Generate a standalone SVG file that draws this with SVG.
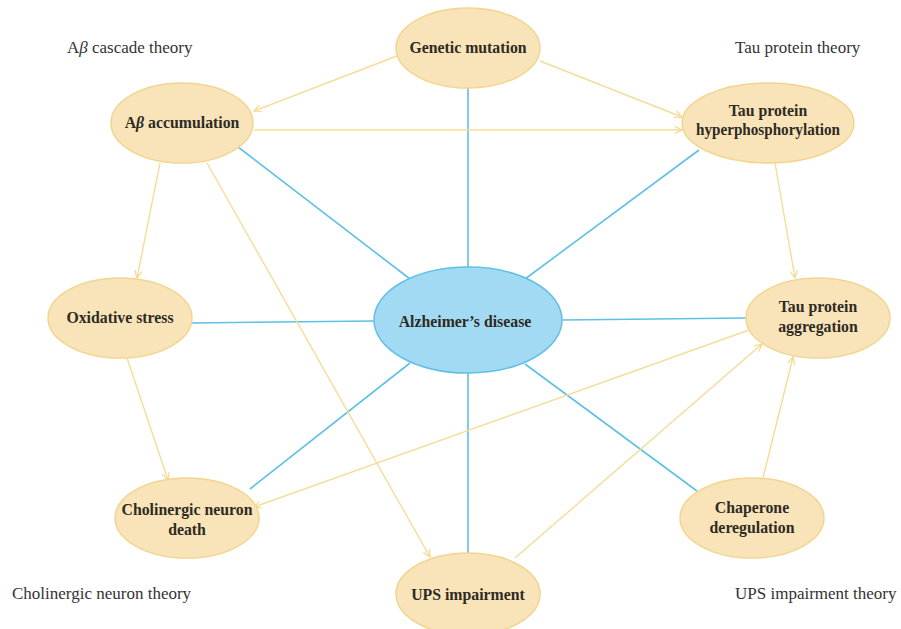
<svg xmlns="http://www.w3.org/2000/svg" width="901" height="629" viewBox="0 0 901 629">
<style>
.n{fill:#f8e4b8;stroke:#f2d590;stroke-width:1.5}
.ad{fill:#a3daf3;stroke:#62c0e6;stroke-width:1.5}
.t{font-family:"Liberation Serif","Times New Roman",serif;font-size:15.8px;font-weight:bold;fill:#2e2a24;text-anchor:middle}
.th{font-family:"Liberation Serif","Times New Roman",serif;font-size:17px;fill:#333;}
.b{stroke:#5ec0e4;stroke-width:1.6;fill:none}
.y{stroke:#f5dc98;stroke-width:1.4;fill:none;marker-end:url(#ah)}
</style>
<defs>
<marker id="ah" viewBox="0 0 10 10" refX="9" refY="5" markerWidth="9" markerHeight="9" markerUnits="userSpaceOnUse" orient="auto">
<polyline points="1,1 9,5 1,9" fill="none" stroke="#f5d88c" stroke-width="1.3"/>
</marker>
</defs>
<rect width="901" height="629" fill="#fff"/>
<g id="connectors">
<line class="b" x1="468" y1="88" x2="468" y2="268"/>
<line class="b" x1="238" y1="147" x2="410" y2="279"/>
<line class="b" x1="699" y1="150" x2="525" y2="279"/>
<line class="b" x1="192" y1="323" x2="374" y2="321"/>
<line class="b" x1="562" y1="320" x2="746" y2="318"/>
<line class="b" x1="250" y1="489" x2="410" y2="363"/>
<line class="b" x1="468" y1="373" x2="468" y2="553"/>
<line class="b" x1="697" y1="491" x2="525" y2="364"/>
<line class="y" x1="397" y1="56" x2="254" y2="111"/>
<line class="y" x1="540" y1="61" x2="682" y2="117"/>
<line class="y" x1="254" y1="130" x2="682" y2="130"/>
<line class="y" x1="160" y1="163" x2="137" y2="278"/>
<line class="y" x1="207" y1="163" x2="430" y2="557"/>
<line class="y" x1="775" y1="163" x2="795" y2="278"/>
<line class="y" x1="127" y1="358" x2="168" y2="480"/>
<line class="y" x1="749" y1="330" x2="254" y2="507"/>
<line class="y" x1="515" y1="558" x2="762" y2="344"/>
<line class="y" x1="763" y1="478" x2="793" y2="357"/>
</g>
<g id="genetic"><ellipse class="n" cx="468" cy="48" rx="72" ry="40"/><text class="t" x="468" y="53">Genetic mutation</text></g>
<g id="abeta"><ellipse class="n" cx="182" cy="123" rx="71" ry="40"/><text class="t" x="182" y="128">A<tspan font-style="italic">β</tspan> accumulation</text></g>
<g id="tauhyper"><ellipse class="n" cx="768" cy="123" rx="86" ry="40"/><text class="t" x="768" y="116">Tau protein</text><text class="t" x="768" y="135" textLength="144" lengthAdjust="spacingAndGlyphs">hyperphosphorylation</text></g>
<g id="oxid"><ellipse class="n" cx="120" cy="318" rx="72" ry="40"/><text class="t" x="120" y="323">Oxidative stress</text></g>
<g id="ad"><ellipse class="ad" cx="468" cy="320" rx="94" ry="53"/><text class="t" x="465" y="327">Alzheimer’s disease</text></g>
<g id="tauagg"><ellipse class="n" cx="818" cy="318" rx="72" ry="40"/><text class="t" x="818" y="312">Tau protein</text><text class="t" x="818" y="332">aggregation</text></g>
<g id="cholin"><ellipse class="n" cx="187" cy="518" rx="72" ry="40"/><text class="t" x="187" y="515">Cholinergic neuron</text><text class="t" x="187" y="535">death</text></g>
<g id="ups"><ellipse class="n" cx="468" cy="594" rx="72" ry="41"/><text class="t" x="468" y="600">UPS impairment</text></g>
<g id="chap"><ellipse class="n" cx="752" cy="518" rx="72" ry="40"/><text class="t" x="752" y="513">Chaperone</text><text class="t" x="752" y="533">deregulation</text></g>
<g id="labels">
<text class="th" x="67" y="53">A<tspan font-style="italic">β</tspan> cascade theory</text>
<text class="th" x="735" y="53">Tau protein theory</text>
<text class="th" x="12" y="599">Cholinergic neuron theory</text>
<text class="th" x="735" y="599">UPS impairment theory</text>
</g>
</svg>
